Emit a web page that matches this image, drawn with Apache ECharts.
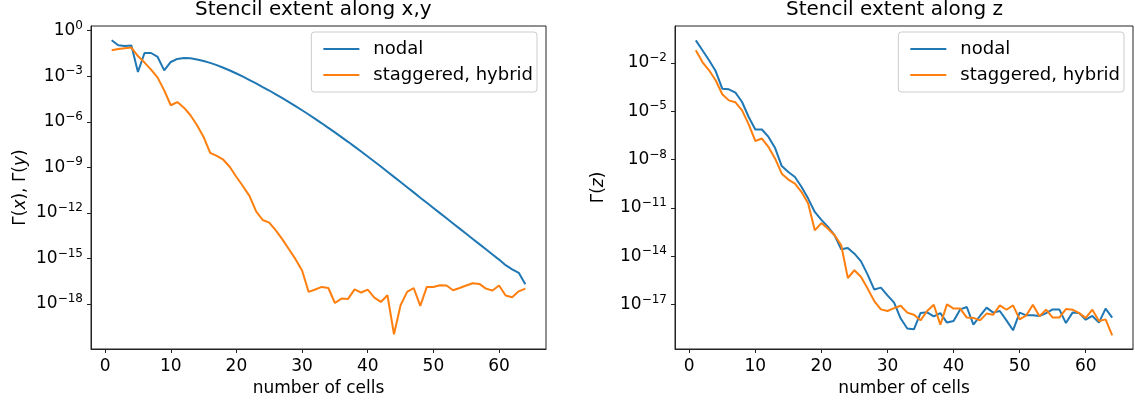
<!DOCTYPE html>
<html>
<head>
<meta charset="utf-8">
<title>Stencil extent</title>
<script src="https://cdn.jsdelivr.net/npm/echarts@6/dist/echarts.min.js"></script>
<style>
  html, body { margin: 0; padding: 0; background: #fff; }
  #chart { width: 1135px; height: 403px; }
</style>
</head>
<body>
<div id="chart"></div>
<script>
// number of cells (x values)
const cells = [1, 2, 3, 4, 5, 6, 7, 8, 9, 10, 11, 12, 13, 14, 15, 16, 17, 18, 19, 20,
  21, 22, 23, 24, 25, 26, 27, 28, 29, 30, 31, 32, 33, 34, 35, 36, 37, 38, 39, 40,
  41, 42, 43, 44, 45, 46, 47, 48, 49, 50, 51, 52, 53, 54, 55, 56, 57, 58, 59, 60,
  61, 62, 63, 64];

// exponents (log10)
const nodalXY = [-0.63, -0.96, -1.0, -0.97, -2.72, -1.47, -1.47, -1.73, -2.61, -2.06,
  -1.86, -1.80, -1.82, -1.90, -2.00, -2.12, -2.27, -2.44, -2.62, -2.82,
  -3.03, -3.25, -3.47, -3.71, -3.94, -4.19, -4.44, -4.70, -4.97, -5.24,
  -5.52, -5.81, -6.10, -6.40, -6.70, -7.01, -7.32, -7.64, -7.96, -8.29,
  -8.62, -8.95, -9.29, -9.63, -9.97, -10.31, -10.65, -11.00, -11.34, -11.68,
  -12.02, -12.36, -12.70, -13.04, -13.38, -13.72, -14.06, -14.40, -14.74, -15.08,
  -15.45, -15.72, -15.95, -16.7];
const staggeredXY = [-1.29, -1.2, -1.15, -1.11, -1.67, -2.1, -2.56, -3.09, -3.93, -4.91,
  -4.7, -5.07, -5.57, -6.23, -7.0, -8.05, -8.25, -8.5, -8.98, -9.64,
  -10.25, -10.9, -11.9, -12.47, -12.64, -13.15, -13.75, -14.4, -15.05, -15.8,
  -17.21, -17.05, -16.88, -16.95, -17.94, -17.65, -17.67, -17.04, -17.25, -17.06,
  -17.58, -17.87, -17.43, -20.0, -18.09, -17.21, -16.95, -18.13, -16.88, -16.88,
  -16.77, -16.79, -17.1, -16.95, -16.79, -16.64, -16.68, -16.99, -17.12, -16.79,
  -17.45, -17.56, -17.17, -16.99];
const nodalZ = [-0.6, -1.22, -1.84, -2.51, -3.6, -3.64, -3.85, -4.43, -5.36, -6.14,
  -6.14, -6.6, -7.29, -8.41, -8.78, -9.09, -9.71, -10.43, -11.26, -11.75,
  -12.19, -12.71, -13.58, -13.5, -13.85, -14.33, -15.15, -16.08, -15.96, -16.44,
  -16.89, -17.88, -18.5, -18.55, -17.54, -17.49, -17.74, -17.54, -18.13, -18.03,
  -17.31, -17.16, -18.26, -17.72, -17.2, -17.51, -17.41, -17.99, -18.61, -17.51,
  -17.68, -17.68, -17.72, -17.54, -17.31, -17.31, -18.16, -17.51, -17.54, -17.95,
  -17.72, -18.13, -17.26, -17.82];
const staggeredZ = [-1.22, -1.95, -2.46, -3.08, -3.95, -4.33, -4.45, -4.95, -5.82, -6.85,
  -6.7, -7.23, -7.95, -8.88, -9.25, -9.5, -10.02, -10.74, -12.4, -11.95,
  -12.3, -12.71, -13.33, -15.36, -14.88, -15.3, -16.02, -16.79, -17.31, -17.41,
  -17.23, -17.08, -17.51, -17.64, -17.99, -17.41, -17.02, -18.26, -17.0, -17.26,
  -17.26, -17.82, -17.84, -17.99, -17.57, -17.64, -17.06, -17.33, -17.06, -17.93,
  -17.68, -17.02, -17.74, -17.33, -17.82, -17.82, -17.29, -17.33, -17.54, -17.84,
  -17.33, -18.03, -17.93, -18.92];

// tick labels
const xTicks = [0, 10, 20, 30, 40, 50, 60];
const yTicksXY = [0, -3, -6, -9, -12, -15, -18];
const yTicksZ = [-2, -5, -8, -11, -14, -17];

const seriesNames = ['nodal', 'staggered, hybrid'];
const BLUE = '#1f77b4';
const ORANGE = '#ff7f0e';
const FONT = 'DejaVu Sans';
const AXIS = '#222';

function pairs(exps) {
  return cells.map((c, i) => [c, Math.pow(10, exps[i])]);
}

function powLabel(v) {
  const e = Math.round(Math.log10(v));
  const s = e < 0 ? '\u2212' + (-e) : String(e);
  return '{b|10}{s|' + s + '}';
}

function xAxisOf(gridIndex) {
  return {
    type: 'value',
    gridIndex,
    min: -2.15,
    max: 67.15,
    name: 'number of cells',
    nameLocation: 'middle',
    nameGap: 29,
    nameTextStyle: { fontFamily: FONT, fontSize: 17, color: '#000' },
    axisLine: { show: true, onZero: false, lineStyle: { color: AXIS, width: 1 } },
    splitLine: { show: false },
    axisTick: { show: true, length: 4, customValues: xTicks, lineStyle: { color: AXIS } },
    axisLabel: { customValues: xTicks, margin: 9, fontFamily: FONT, fontSize: 17, color: '#000' }
  };
}

function yAxisOf(gridIndex, lo, hi, ticks, name, gap) {
  const vals = ticks.map(e => Math.pow(10, e));
  return {
    type: 'log',
    gridIndex,
    min: Math.pow(10, lo),
    max: Math.pow(10, hi),
    name,
    nameLocation: 'middle',
    nameGap: gap,
    nameRotate: 90,
    nameTextStyle: {
      fontFamily: FONT, fontSize: 17, color: '#000',
      rich: {
        n: { fontFamily: FONT, fontSize: 17, color: '#000' },
        i: { fontFamily: FONT, fontSize: 17, color: '#000', fontStyle: 'italic' }
      }
    },
    axisLine: { show: true, onZero: false, lineStyle: { color: AXIS, width: 1 } },
    splitLine: { show: false },
    minorTick: { show: false },
    axisTick: { show: true, length: 4, customValues: vals, lineStyle: { color: AXIS } },
    axisLabel: {
      customValues: vals,
      margin: 8,
      formatter: powLabel,
      rich: {
        b: { fontFamily: FONT, fontSize: 17, color: '#000', lineHeight: 22 },
        s: { fontFamily: FONT, fontSize: 12, color: '#000', verticalAlign: 'top', lineHeight: 12 }
      }
    }
  };
}

function legendOf(right) {
  return {
    data: seriesNames,
    orient: 'vertical',
    right,
    top: 32,
    icon: 'rect',
    itemWidth: 36,
    itemHeight: 2,
    itemGap: 6,
    padding: [7, 4, 7, 12],
    backgroundColor: 'rgba(255,255,255,0.8)',
    borderColor: '#ccc',
    borderWidth: 1,
    borderRadius: 3,
    textStyle: { fontFamily: FONT, fontSize: 18, color: '#000', padding: [0, 0, 0, 9], lineHeight: 20 }
  };
}

function lineSeries(name, exps, color, idx) {
  return {
    name,
    type: 'line',
    xAxisIndex: idx,
    yAxisIndex: idx,
    data: pairs(exps),
    showSymbol: false,
    symbol: 'none',
    animation: false,
    lineStyle: { color, width: 2 },
    itemStyle: { color }
  };
}

const chart = echarts.init(document.getElementById('chart'));

const option = {
  backgroundColor: '#fff',
  animation: false,
  textStyle: { fontFamily: FONT },
  graphic: [
    { type: 'text', left: 195, top: 0, style: { text: 'Stencil extent along x,y', fontFamily: FONT, fontSize: 20, fill: '#000' } },
    { type: 'text', left: 786, top: 0, style: { text: 'Stencil extent along z', fontFamily: FONT, fontSize: 20, fill: '#000' } }
  ],
  grid: [
    { left: 91, top: 26, width: 455, height: 323, show: true, borderColor: AXIS, borderWidth: 1, backgroundColor: 'transparent' },
    { left: 675, top: 26, width: 458, height: 323, show: true, borderColor: AXIS, borderWidth: 1, backgroundColor: 'transparent' }
  ],
  xAxis: [xAxisOf(0), xAxisOf(1)],
  yAxis: [
    yAxisOf(0, -20.97, 0.31, yTicksXY, '{n|\u0393(}{i|x}{n|), \u0393(}{i|y}{n|)}', 62),
    yAxisOf(1, -19.77, 0.29, yTicksZ, '{n|\u0393(}{i|z}{n|)}', 68)
  ],
  legend: [legendOf(1135 - 537), legendOf(1135 - 1124)],
  series: [
    lineSeries(seriesNames[0], nodalXY, BLUE, 0),
    lineSeries(seriesNames[1], staggeredXY, ORANGE, 0),
    lineSeries(seriesNames[0], nodalZ, BLUE, 1),
    lineSeries(seriesNames[1], staggeredZ, ORANGE, 1)
  ]
};

chart.setOption(option);
</script>
</body>
</html>
